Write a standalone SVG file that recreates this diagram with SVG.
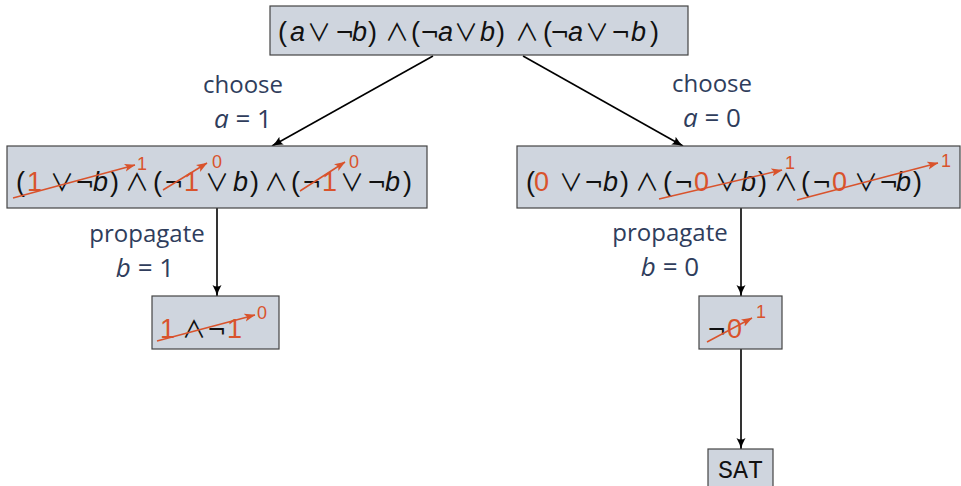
<svg xmlns="http://www.w3.org/2000/svg" width="961" height="486" viewBox="0 0 961 486">
<defs>
<style>
.box{fill:#cfd5de;stroke:#444;stroke-width:1.2}
.f{font-family:"Liberation Sans","DejaVu Sans",sans-serif;font-size:27px;fill:#111}
.i{font-style:italic}
.op{font-family:"DejaVu Sans",sans-serif;font-size:23px}
.ov{font-family:"Noto Sans CJK JP","DejaVu Sans",sans-serif;font-size:24px;font-weight:400}
.r{fill:#d9532c}
.sup{font-family:"Liberation Sans",sans-serif;font-size:18px;fill:#d9532c}
.lbl{font-family:"Open Sans","DejaVu Sans",sans-serif;font-size:24px;fill:#2f3d5c;text-anchor:middle}
.m{font-size:26px}
.edge{stroke:#000;stroke-width:1.6;fill:none;marker-end:url(#ah)}
.strike{stroke:#d9532c;stroke-width:1.5;fill:none;marker-end:url(#rh)}
.mono{font-family:"Liberation Mono",monospace;font-size:25px;fill:#111;text-anchor:middle}
</style>
<marker id="ah" viewBox="0 0 12 10" refX="11" refY="5" markerWidth="12" markerHeight="10" markerUnits="userSpaceOnUse" orient="auto">
<path d="M0,0.5 Q6,4 11.5,5 Q6,6 0,9.5 Q3,5 0,0.5z" fill="#000"/>
</marker>
<marker id="rh" viewBox="0 0 11 9" refX="10.5" refY="4.5" markerWidth="11" markerHeight="9" markerUnits="userSpaceOnUse" orient="auto">
<path d="M0,0.5 L11,4.5 L0,8.5 L2.5,4.5z" fill="#d9532c"/>
</marker>
</defs>

<g id="edges">
<line class="edge" x1="433" y1="56" x2="272" y2="146"/>
<line class="edge" x1="523" y1="56" x2="683" y2="146"/>
<line class="edge" x1="217" y1="208" x2="217" y2="296"/>
<line class="edge" x1="741" y1="208" x2="741" y2="296"/>
<line class="edge" x1="741" y1="349" x2="741" y2="449"/>
</g>

<g id="labels">
<text class="lbl" x="243" y="93">choose</text>
<text class="lbl m" x="243" y="128"><tspan class="i">a</tspan> = 1</text>
<text class="lbl" x="712" y="92">choose</text>
<text class="lbl m" x="712" y="127"><tspan class="i">a</tspan> = 0</text>
<text class="lbl" x="147" y="242">propagate</text>
<text class="lbl m" x="145" y="277"><tspan class="i">b</tspan> = 1</text>
<text class="lbl" x="670" y="241">propagate</text>
<text class="lbl m" x="670" y="276"><tspan class="i">b</tspan> = 0</text>
</g>

<g id="root">
<rect class="box" x="270" y="6" width="418" height="49"/>
<text class="f" y="41"><tspan x="278">(</tspan><tspan x="290" class="i">a</tspan> <tspan x="307" class="ov">∨</tspan> <tspan x="335" class="op">¬</tspan><tspan x="352" class="i">b</tspan><tspan x="368">)</tspan> <tspan x="385" class="ov">∧</tspan> <tspan x="411">(</tspan><tspan x="420" class="op">¬</tspan><tspan x="438" class="i">a</tspan> <tspan x="454" class="ov">∨</tspan> <tspan x="480" class="i">b</tspan><tspan x="496">)</tspan> <tspan x="515" class="ov">∧</tspan> <tspan x="543">(</tspan><tspan x="550" class="op">¬</tspan><tspan x="568" class="i">a</tspan> <tspan x="585" class="ov">∨</tspan> <tspan x="611" class="op">¬</tspan><tspan x="631" class="i">b</tspan><tspan x="650">)</tspan></text>
</g>

<g id="left">
<rect class="box" x="7" y="146" width="420" height="62"/>
<text class="f" y="191"><tspan x="16">(</tspan><tspan x="27" class="r">1</tspan> <tspan x="50" class="ov">∨</tspan> <tspan x="75" class="op">¬</tspan><tspan x="93" class="i">b</tspan><tspan x="110">)</tspan> <tspan x="125" class="ov">∧</tspan> <tspan x="153">(</tspan><tspan x="164" class="op">¬</tspan><tspan x="184" class="r">1</tspan> <tspan x="205" class="ov">∨</tspan> <tspan x="233" class="i">b</tspan><tspan x="250">)</tspan> <tspan x="264" class="ov">∧</tspan> <tspan x="291">(</tspan><tspan x="302" class="op">¬</tspan><tspan x="322" class="r">1</tspan> <tspan x="340" class="ov">∨</tspan> <tspan x="367" class="op">¬</tspan><tspan x="385" class="i">b</tspan><tspan x="403">)</tspan></text>
<line class="strike" x1="13" y1="198" x2="135" y2="165"/>
<text class="sup" x="137" y="170">1</text>
<line class="strike" x1="163" y1="190" x2="207" y2="163"/>
<text class="sup" x="212" y="168">0</text>
<line class="strike" x1="300" y1="191" x2="345" y2="162"/>
<text class="sup" x="349" y="168">0</text>
</g>

<g id="right">
<rect class="box" x="517" y="146" width="443" height="62"/>
<text class="f" y="191"><tspan x="526">(</tspan><tspan x="534" class="r">0</tspan> <tspan x="559" class="ov">∨</tspan> <tspan x="584" class="op">¬</tspan><tspan x="603" class="i">b</tspan><tspan x="620">)</tspan> <tspan x="635" class="ov">∧</tspan> <tspan x="663">(</tspan><tspan x="674" class="op">¬</tspan><tspan x="694" class="r">0</tspan> <tspan x="715" class="ov">∨</tspan> <tspan x="741" class="i">b</tspan><tspan x="758">)</tspan> <tspan x="774" class="ov">∧</tspan> <tspan x="801">(</tspan><tspan x="812" class="op">¬</tspan><tspan x="832" class="r">0</tspan> <tspan x="854" class="ov">∨</tspan> <tspan x="879" class="op">¬</tspan><tspan x="896" class="i">b</tspan><tspan x="913">)</tspan></text>
<line class="strike" x1="659" y1="199" x2="782" y2="170"/>
<text class="sup" x="785" y="169">1</text>
<line class="strike" x1="797" y1="200" x2="938" y2="163"/>
<text class="sup" x="941" y="167">1</text>
</g>

<g id="leftprop">
<rect class="box" x="152" y="296" width="127" height="53"/>
<text class="f" y="338"><tspan x="160" class="r">1</tspan> <tspan x="182" class="ov">∧</tspan> <tspan x="207" class="op">¬</tspan><tspan x="227" class="r">1</tspan></text>
<line class="strike" x1="157" y1="341" x2="255" y2="315"/>
<text class="sup" x="257" y="319">0</text>
</g>

<g id="rightprop">
<rect class="box" x="699" y="296" width="83" height="53"/>
<text class="f" y="338"><tspan x="707" class="op">¬</tspan><tspan x="727" class="r">0</tspan></text>
<line class="strike" x1="707" y1="342" x2="752" y2="318"/>
<text class="sup" x="756" y="318">1</text>
</g>

<g id="sat">
<rect class="box" x="708" y="449" width="65" height="45"/>
<text class="mono" x="740.5" y="478">SAT</text>
</g>
</svg>
